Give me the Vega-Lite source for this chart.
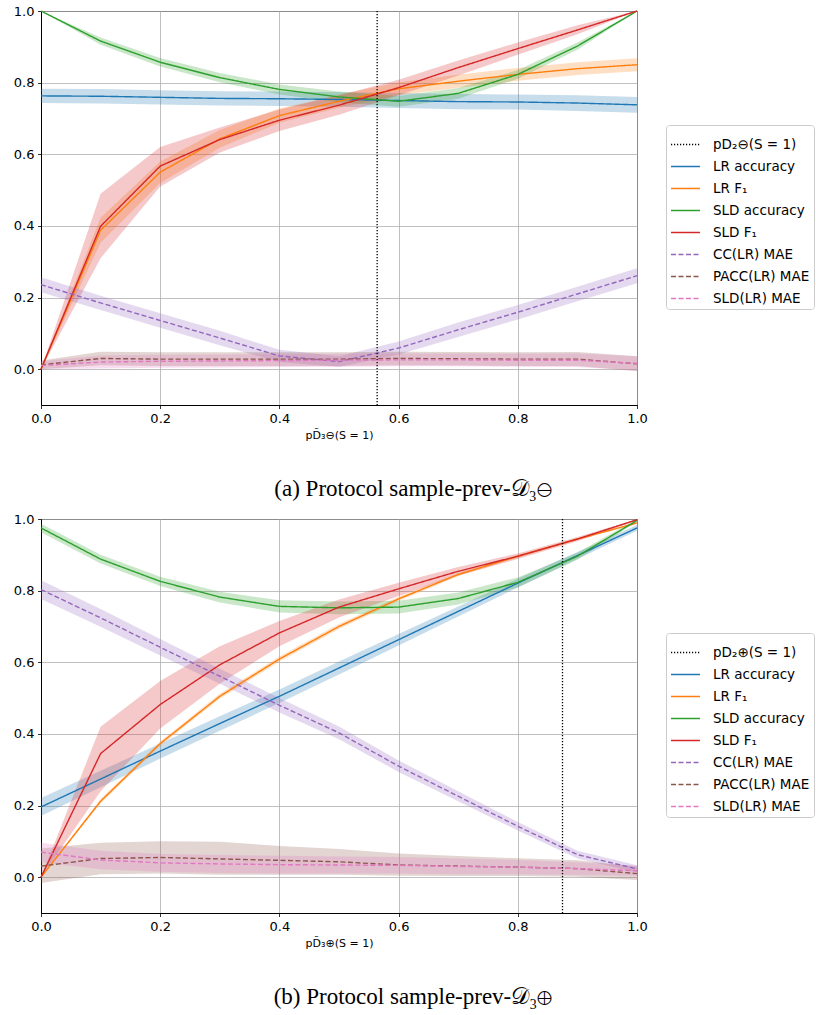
{
  "$schema": "https://vega.github.io/schema/vega-lite/v6.json",
  "padding": {"left": 12, "top": 4, "right": 0, "bottom": 0},
  "background": "white",
  "datasets": {
    "a": [
      {"x":0.0,"s":"LR accuracy","y":0.763,"lo":0.743,"hi":0.783},
      {"x":0.1,"s":"LR accuracy","y":0.762,"lo":0.742,"hi":0.782},
      {"x":0.2,"s":"LR accuracy","y":0.759,"lo":0.739,"hi":0.779},
      {"x":0.3,"s":"LR accuracy","y":0.756,"lo":0.736,"hi":0.776},
      {"x":0.4,"s":"LR accuracy","y":0.755,"lo":0.735,"hi":0.775},
      {"x":0.5,"s":"LR accuracy","y":0.753,"lo":0.733,"hi":0.773},
      {"x":0.6,"s":"LR accuracy","y":0.750,"lo":0.729,"hi":0.771},
      {"x":0.7,"s":"LR accuracy","y":0.747,"lo":0.726,"hi":0.768},
      {"x":0.8,"s":"LR accuracy","y":0.746,"lo":0.725,"hi":0.767},
      {"x":0.9,"s":"LR accuracy","y":0.743,"lo":0.721,"hi":0.765},
      {"x":1.0,"s":"LR accuracy","y":0.738,"lo":0.716,"hi":0.760},
      {"x":0.0,"s":"LR F₁","y":0.0,"lo":0.0,"hi":0.0},
      {"x":0.1,"s":"LR F₁","y":0.388,"lo":0.353,"hi":0.423},
      {"x":0.2,"s":"LR F₁","y":0.550,"lo":0.520,"hi":0.580},
      {"x":0.3,"s":"LR F₁","y":0.643,"lo":0.618,"hi":0.668},
      {"x":0.4,"s":"LR F₁","y":0.708,"lo":0.688,"hi":0.728},
      {"x":0.5,"s":"LR F₁","y":0.748,"lo":0.730,"hi":0.766},
      {"x":0.6,"s":"LR F₁","y":0.783,"lo":0.765,"hi":0.801},
      {"x":0.7,"s":"LR F₁","y":0.804,"lo":0.786,"hi":0.822},
      {"x":0.8,"s":"LR F₁","y":0.823,"lo":0.805,"hi":0.841},
      {"x":0.9,"s":"LR F₁","y":0.839,"lo":0.821,"hi":0.857},
      {"x":1.0,"s":"LR F₁","y":0.850,"lo":0.832,"hi":0.868},
      {"x":0.0,"s":"SLD accuracy","y":1.0,"lo":1.0,"hi":1.0},
      {"x":0.1,"s":"SLD accuracy","y":0.916,"lo":0.906,"hi":0.926},
      {"x":0.2,"s":"SLD accuracy","y":0.857,"lo":0.845,"hi":0.869},
      {"x":0.3,"s":"SLD accuracy","y":0.814,"lo":0.801,"hi":0.827},
      {"x":0.4,"s":"SLD accuracy","y":0.781,"lo":0.767,"hi":0.795},
      {"x":0.5,"s":"SLD accuracy","y":0.760,"lo":0.745,"hi":0.775},
      {"x":0.6,"s":"SLD accuracy","y":0.748,"lo":0.733,"hi":0.763},
      {"x":0.7,"s":"SLD accuracy","y":0.770,"lo":0.755,"hi":0.785},
      {"x":0.8,"s":"SLD accuracy","y":0.823,"lo":0.811,"hi":0.835},
      {"x":0.9,"s":"SLD accuracy","y":0.902,"lo":0.892,"hi":0.912},
      {"x":1.0,"s":"SLD accuracy","y":1.0,"lo":1.0,"hi":1.0},
      {"x":0.0,"s":"SLD F₁","y":0.0,"lo":0.0,"hi":0.0},
      {"x":0.1,"s":"SLD F₁","y":0.399,"lo":0.310,"hi":0.490},
      {"x":0.2,"s":"SLD F₁","y":0.567,"lo":0.510,"hi":0.620},
      {"x":0.3,"s":"SLD F₁","y":0.641,"lo":0.605,"hi":0.675},
      {"x":0.4,"s":"SLD F₁","y":0.695,"lo":0.665,"hi":0.725},
      {"x":0.5,"s":"SLD F₁","y":0.737,"lo":0.710,"hi":0.765},
      {"x":0.6,"s":"SLD F₁","y":0.786,"lo":0.765,"hi":0.808},
      {"x":0.7,"s":"SLD F₁","y":0.842,"lo":0.820,"hi":0.862},
      {"x":0.8,"s":"SLD F₁","y":0.895,"lo":0.878,"hi":0.912},
      {"x":0.9,"s":"SLD F₁","y":0.947,"lo":0.935,"hi":0.960},
      {"x":1.0,"s":"SLD F₁","y":1.0,"lo":1.0,"hi":1.0},
      {"x":0.0,"s":"CC(LR) MAE","y":0.236,"lo":0.215,"hi":0.257},
      {"x":0.1,"s":"CC(LR) MAE","y":0.185,"lo":0.165,"hi":0.205},
      {"x":0.2,"s":"CC(LR) MAE","y":0.136,"lo":0.116,"hi":0.156},
      {"x":0.3,"s":"CC(LR) MAE","y":0.087,"lo":0.067,"hi":0.107},
      {"x":0.4,"s":"CC(LR) MAE","y":0.037,"lo":0.020,"hi":0.054},
      {"x":0.5,"s":"CC(LR) MAE","y":0.021,"lo":0.006,"hi":0.036},
      {"x":0.6,"s":"CC(LR) MAE","y":0.059,"lo":0.041,"hi":0.077},
      {"x":0.7,"s":"CC(LR) MAE","y":0.110,"lo":0.090,"hi":0.130},
      {"x":0.8,"s":"CC(LR) MAE","y":0.159,"lo":0.139,"hi":0.179},
      {"x":0.9,"s":"CC(LR) MAE","y":0.210,"lo":0.190,"hi":0.230},
      {"x":1.0,"s":"CC(LR) MAE","y":0.261,"lo":0.240,"hi":0.282},
      {"x":0.0,"s":"PACC(LR) MAE","y":0.012,"lo":0.000,"hi":0.024},
      {"x":0.1,"s":"PACC(LR) MAE","y":0.030,"lo":0.011,"hi":0.049},
      {"x":0.2,"s":"PACC(LR) MAE","y":0.028,"lo":0.009,"hi":0.047},
      {"x":0.3,"s":"PACC(LR) MAE","y":0.028,"lo":0.009,"hi":0.047},
      {"x":0.4,"s":"PACC(LR) MAE","y":0.028,"lo":0.009,"hi":0.047},
      {"x":0.5,"s":"PACC(LR) MAE","y":0.028,"lo":0.009,"hi":0.047},
      {"x":0.6,"s":"PACC(LR) MAE","y":0.030,"lo":0.011,"hi":0.049},
      {"x":0.7,"s":"PACC(LR) MAE","y":0.029,"lo":0.010,"hi":0.048},
      {"x":0.8,"s":"PACC(LR) MAE","y":0.028,"lo":0.009,"hi":0.047},
      {"x":0.9,"s":"PACC(LR) MAE","y":0.028,"lo":0.009,"hi":0.048},
      {"x":1.0,"s":"PACC(LR) MAE","y":0.015,"lo":-0.006,"hi":0.036},
      {"x":0.0,"s":"SLD(LR) MAE","y":0.010,"lo":0.000,"hi":0.022},
      {"x":0.1,"s":"SLD(LR) MAE","y":0.020,"lo":0.002,"hi":0.038},
      {"x":0.2,"s":"SLD(LR) MAE","y":0.022,"lo":0.004,"hi":0.040},
      {"x":0.3,"s":"SLD(LR) MAE","y":0.023,"lo":0.005,"hi":0.041},
      {"x":0.4,"s":"SLD(LR) MAE","y":0.024,"lo":0.006,"hi":0.042},
      {"x":0.5,"s":"SLD(LR) MAE","y":0.025,"lo":0.007,"hi":0.043},
      {"x":0.6,"s":"SLD(LR) MAE","y":0.026,"lo":0.008,"hi":0.044},
      {"x":0.7,"s":"SLD(LR) MAE","y":0.026,"lo":0.008,"hi":0.044},
      {"x":0.8,"s":"SLD(LR) MAE","y":0.025,"lo":0.007,"hi":0.043},
      {"x":0.9,"s":"SLD(LR) MAE","y":0.025,"lo":0.006,"hi":0.044},
      {"x":1.0,"s":"SLD(LR) MAE","y":0.016,"lo":-0.004,"hi":0.036}
    ],
    "b": [
      {"x":0.0,"s":"LR accuracy","y":0.196,"lo":0.171,"hi":0.221},
      {"x":0.1,"s":"LR accuracy","y":0.274,"lo":0.251,"hi":0.297},
      {"x":0.2,"s":"LR accuracy","y":0.352,"lo":0.331,"hi":0.373},
      {"x":0.3,"s":"LR accuracy","y":0.429,"lo":0.409,"hi":0.449},
      {"x":0.4,"s":"LR accuracy","y":0.505,"lo":0.486,"hi":0.524},
      {"x":0.5,"s":"LR accuracy","y":0.584,"lo":0.566,"hi":0.602},
      {"x":0.6,"s":"LR accuracy","y":0.663,"lo":0.647,"hi":0.679},
      {"x":0.7,"s":"LR accuracy","y":0.742,"lo":0.728,"hi":0.756},
      {"x":0.8,"s":"LR accuracy","y":0.821,"lo":0.809,"hi":0.833},
      {"x":0.9,"s":"LR accuracy","y":0.898,"lo":0.888,"hi":0.908},
      {"x":1.0,"s":"LR accuracy","y":0.975,"lo":0.967,"hi":0.983},
      {"x":0.0,"s":"LR F₁","y":0.0,"lo":0.0,"hi":0.0},
      {"x":0.1,"s":"LR F₁","y":0.212,"lo":0.206,"hi":0.218},
      {"x":0.2,"s":"LR F₁","y":0.373,"lo":0.367,"hi":0.379},
      {"x":0.3,"s":"LR F₁","y":0.505,"lo":0.498,"hi":0.512},
      {"x":0.4,"s":"LR F₁","y":0.609,"lo":0.602,"hi":0.616},
      {"x":0.5,"s":"LR F₁","y":0.700,"lo":0.693,"hi":0.707},
      {"x":0.6,"s":"LR F₁","y":0.777,"lo":0.771,"hi":0.783},
      {"x":0.7,"s":"LR F₁","y":0.845,"lo":0.840,"hi":0.850},
      {"x":0.8,"s":"LR F₁","y":0.896,"lo":0.892,"hi":0.900},
      {"x":0.9,"s":"LR F₁","y":0.944,"lo":0.941,"hi":0.947},
      {"x":1.0,"s":"LR F₁","y":0.989,"lo":0.987,"hi":0.991},
      {"x":0.0,"s":"SLD accuracy","y":0.975,"lo":0.963,"hi":0.987},
      {"x":0.1,"s":"SLD accuracy","y":0.888,"lo":0.876,"hi":0.900},
      {"x":0.2,"s":"SLD accuracy","y":0.826,"lo":0.813,"hi":0.839},
      {"x":0.3,"s":"SLD accuracy","y":0.782,"lo":0.767,"hi":0.797},
      {"x":0.4,"s":"SLD accuracy","y":0.756,"lo":0.739,"hi":0.773},
      {"x":0.5,"s":"SLD accuracy","y":0.752,"lo":0.734,"hi":0.770},
      {"x":0.6,"s":"SLD accuracy","y":0.754,"lo":0.736,"hi":0.772},
      {"x":0.7,"s":"SLD accuracy","y":0.778,"lo":0.761,"hi":0.795},
      {"x":0.8,"s":"SLD accuracy","y":0.823,"lo":0.809,"hi":0.837},
      {"x":0.9,"s":"SLD accuracy","y":0.896,"lo":0.886,"hi":0.906},
      {"x":1.0,"s":"SLD accuracy","y":0.996,"lo":0.992,"hi":1.0},
      {"x":0.0,"s":"SLD F₁","y":0.0,"lo":0.0,"hi":0.0},
      {"x":0.1,"s":"SLD F₁","y":0.345,"lo":0.240,"hi":0.420},
      {"x":0.2,"s":"SLD F₁","y":0.482,"lo":0.415,"hi":0.548},
      {"x":0.3,"s":"SLD F₁","y":0.593,"lo":0.540,"hi":0.645},
      {"x":0.4,"s":"SLD F₁","y":0.682,"lo":0.645,"hi":0.715},
      {"x":0.5,"s":"SLD F₁","y":0.754,"lo":0.725,"hi":0.775},
      {"x":0.6,"s":"SLD F₁","y":0.805,"lo":0.785,"hi":0.822},
      {"x":0.7,"s":"SLD F₁","y":0.854,"lo":0.842,"hi":0.866},
      {"x":0.8,"s":"SLD F₁","y":0.896,"lo":0.888,"hi":0.904},
      {"x":0.9,"s":"SLD F₁","y":0.944,"lo":0.938,"hi":0.950},
      {"x":1.0,"s":"SLD F₁","y":0.998,"lo":0.996,"hi":1.0},
      {"x":0.0,"s":"CC(LR) MAE","y":0.803,"lo":0.777,"hi":0.829},
      {"x":0.1,"s":"CC(LR) MAE","y":0.724,"lo":0.699,"hi":0.749},
      {"x":0.2,"s":"CC(LR) MAE","y":0.642,"lo":0.619,"hi":0.665},
      {"x":0.3,"s":"CC(LR) MAE","y":0.561,"lo":0.540,"hi":0.582},
      {"x":0.4,"s":"CC(LR) MAE","y":0.480,"lo":0.460,"hi":0.500},
      {"x":0.5,"s":"CC(LR) MAE","y":0.403,"lo":0.385,"hi":0.421},
      {"x":0.6,"s":"CC(LR) MAE","y":0.310,"lo":0.294,"hi":0.326},
      {"x":0.7,"s":"CC(LR) MAE","y":0.226,"lo":0.212,"hi":0.240},
      {"x":0.8,"s":"CC(LR) MAE","y":0.142,"lo":0.130,"hi":0.154},
      {"x":0.9,"s":"CC(LR) MAE","y":0.063,"lo":0.052,"hi":0.074},
      {"x":1.0,"s":"CC(LR) MAE","y":0.023,"lo":0.013,"hi":0.033},
      {"x":0.0,"s":"PACC(LR) MAE","y":0.031,"lo":-0.016,"hi":0.080},
      {"x":0.1,"s":"PACC(LR) MAE","y":0.052,"lo":0.008,"hi":0.096},
      {"x":0.2,"s":"PACC(LR) MAE","y":0.055,"lo":0.010,"hi":0.100},
      {"x":0.3,"s":"PACC(LR) MAE","y":0.051,"lo":0.007,"hi":0.099},
      {"x":0.4,"s":"PACC(LR) MAE","y":0.047,"lo":0.007,"hi":0.087},
      {"x":0.5,"s":"PACC(LR) MAE","y":0.043,"lo":0.007,"hi":0.079},
      {"x":0.6,"s":"PACC(LR) MAE","y":0.034,"lo":0.004,"hi":0.066},
      {"x":0.7,"s":"PACC(LR) MAE","y":0.031,"lo":0.003,"hi":0.059},
      {"x":0.8,"s":"PACC(LR) MAE","y":0.028,"lo":0.003,"hi":0.053},
      {"x":0.9,"s":"PACC(LR) MAE","y":0.024,"lo":0.001,"hi":0.047},
      {"x":1.0,"s":"PACC(LR) MAE","y":0.010,"lo":-0.008,"hi":0.030},
      {"x":0.0,"s":"SLD(LR) MAE","y":0.070,"lo":0.042,"hi":0.096},
      {"x":0.1,"s":"SLD(LR) MAE","y":0.048,"lo":0.022,"hi":0.074},
      {"x":0.2,"s":"SLD(LR) MAE","y":0.040,"lo":0.015,"hi":0.065},
      {"x":0.3,"s":"SLD(LR) MAE","y":0.037,"lo":0.012,"hi":0.062},
      {"x":0.4,"s":"SLD(LR) MAE","y":0.035,"lo":0.010,"hi":0.060},
      {"x":0.5,"s":"SLD(LR) MAE","y":0.034,"lo":0.010,"hi":0.058},
      {"x":0.6,"s":"SLD(LR) MAE","y":0.033,"lo":0.010,"hi":0.056},
      {"x":0.7,"s":"SLD(LR) MAE","y":0.030,"lo":0.008,"hi":0.052},
      {"x":0.8,"s":"SLD(LR) MAE","y":0.028,"lo":0.008,"hi":0.048},
      {"x":0.9,"s":"SLD(LR) MAE","y":0.024,"lo":0.006,"hi":0.042},
      {"x":1.0,"s":"SLD(LR) MAE","y":0.018,"lo":0.004,"hi":0.032}
    ]
  },
  "vconcat": [
    {
      "width": 596, "height": 394,
      "title": {"text": "(a) Protocol sample-prev-𝒟₃⊖", "orient": "bottom", "anchor": "middle", "font": "Liberation Serif", "fontSize": 23, "fontWeight": "normal", "color": "black", "dx": 74, "offset": 38},
      "layer": [
        {
          "data": {"name": "a"},
          "mark": {"type": "area", "opacity": 0.25},
          "encoding": {
            "x": {"field": "x", "type": "quantitative", "scale": {"domain": [0, 1], "nice": false}, "axis": {"values": [0,0.2,0.4,0.6,0.8,1.0], "format": ".1f", "title": "pD̃₃⊖(S = 1)", "labelFlush": false}},
            "y": {"field": "lo", "type": "quantitative", "scale": {"domain": [-0.1, 1], "nice": false, "zero": false}, "axis": {"values": [0,0.2,0.4,0.6,0.8,1.0], "format": ".1f", "title": null}},
            "y2": {"field": "hi"},
            "fill": {"field": "s", "type": "nominal", "legend": null,
              "scale": {"domain": ["LR accuracy", "LR F₁", "SLD accuracy", "SLD F₁", "CC(LR) MAE", "PACC(LR) MAE", "SLD(LR) MAE"],
                        "range": ["#1f77b4", "#ff7f0e", "#2ca02c", "#d62728", "#9467bd", "#8c564b", "#e377c2"]}}
          }
        },
        {
          "data": {"name": "a"},
          "mark": {"type": "line", "strokeWidth": 1.4},
          "encoding": {
            "x": {"field": "x", "type": "quantitative"},
            "y": {"field": "y", "type": "quantitative"},
            "color": {"field": "s", "type": "nominal", "legend": {"orient": "none", "legendX": 625, "legendY": 114, "title": null},
              "scale": {"domain": ["pD₂⊖(S = 1)", "LR accuracy", "LR F₁", "SLD accuracy", "SLD F₁", "CC(LR) MAE", "PACC(LR) MAE", "SLD(LR) MAE"],
                        "range": ["#000000", "#1f77b4", "#ff7f0e", "#2ca02c", "#d62728", "#9467bd", "#8c564b", "#e377c2"]}},
            "strokeDash": {"field": "s", "type": "nominal", "legend": {"orient": "none", "legendX": 625, "legendY": 114, "title": null},
              "scale": {"domain": ["pD₂⊖(S = 1)", "LR accuracy", "LR F₁", "SLD accuracy", "SLD F₁", "CC(LR) MAE", "PACC(LR) MAE", "SLD(LR) MAE"],
                        "range": [[1.2, 1.8], [1, 0], [1, 0], [1, 0], [1, 0], [5, 2.5], [5, 2.5], [5, 2.5]]}}
          }
        },
        {
          "data": {"values": [{"x": 0.564, "s": "pD₂⊖(S = 1)"}]},
          "mark": {"type": "rule", "strokeWidth": 1.3},
          "encoding": {
            "x": {"field": "x", "type": "quantitative"},
            "color": {"field": "s", "type": "nominal"},
            "strokeDash": {"field": "s", "type": "nominal"}
          }
        }
      ]
    },
    {
      "width": 596, "height": 394,
      "title": {"text": "(b) Protocol sample-prev-𝒟₃⊕", "orient": "bottom", "anchor": "middle", "font": "Liberation Serif", "fontSize": 23, "fontWeight": "normal", "color": "black", "dx": 74, "offset": 38},
      "layer": [
        {
          "data": {"name": "b"},
          "mark": {"type": "area", "opacity": 0.25},
          "encoding": {
            "x": {"field": "x", "type": "quantitative", "scale": {"domain": [0, 1], "nice": false}, "axis": {"values": [0,0.2,0.4,0.6,0.8,1.0], "format": ".1f", "title": "pD̃₃⊕(S = 1)", "labelFlush": false}},
            "y": {"field": "lo", "type": "quantitative", "scale": {"domain": [-0.1, 1], "nice": false, "zero": false}, "axis": {"values": [0,0.2,0.4,0.6,0.8,1.0], "format": ".1f", "title": null}},
            "y2": {"field": "hi"},
            "fill": {"field": "s", "type": "nominal", "legend": null,
              "scale": {"domain": ["LR accuracy", "LR F₁", "SLD accuracy", "SLD F₁", "CC(LR) MAE", "PACC(LR) MAE", "SLD(LR) MAE"],
                        "range": ["#1f77b4", "#ff7f0e", "#2ca02c", "#d62728", "#9467bd", "#8c564b", "#e377c2"]}}
          }
        },
        {
          "data": {"name": "b"},
          "mark": {"type": "line", "strokeWidth": 1.4},
          "encoding": {
            "x": {"field": "x", "type": "quantitative"},
            "y": {"field": "y", "type": "quantitative"},
            "color": {"field": "s", "type": "nominal", "legend": {"orient": "none", "legendX": 625, "legendY": 114, "title": null},
              "scale": {"domain": ["pD₂⊕(S = 1)", "LR accuracy", "LR F₁", "SLD accuracy", "SLD F₁", "CC(LR) MAE", "PACC(LR) MAE", "SLD(LR) MAE"],
                        "range": ["#000000", "#1f77b4", "#ff7f0e", "#2ca02c", "#d62728", "#9467bd", "#8c564b", "#e377c2"]}},
            "strokeDash": {"field": "s", "type": "nominal", "legend": {"orient": "none", "legendX": 625, "legendY": 114, "title": null},
              "scale": {"domain": ["pD₂⊕(S = 1)", "LR accuracy", "LR F₁", "SLD accuracy", "SLD F₁", "CC(LR) MAE", "PACC(LR) MAE", "SLD(LR) MAE"],
                        "range": [[1.2, 1.8], [1, 0], [1, 0], [1, 0], [1, 0], [5, 2.5], [5, 2.5], [5, 2.5]]}}
          }
        },
        {
          "data": {"values": [{"x": 0.875, "s": "pD₂⊕(S = 1)"}]},
          "mark": {"type": "rule", "strokeWidth": 1.3},
          "encoding": {
            "x": {"field": "x", "type": "quantitative"},
            "color": {"field": "s", "type": "nominal"},
            "strokeDash": {"field": "s", "type": "nominal"}
          }
        }
      ]
    }
  ],
  "spacing": 114,
  "bounds": "flush",
  "resolve": {"scale": {"color": "independent", "strokeDash": "independent", "fill": "independent"}},
  "config": {
    "view": {"stroke": "#000000", "strokeWidth": 1},
    "axis": {
      "labelFont": "DejaVu Sans", "labelFontSize": 13, "labelColor": "#000000",
      "titleFont": "DejaVu Sans", "titleFontSize": 11, "titleFontWeight": "normal", "titleColor": "#000000",
      "domainColor": "#000000", "domainWidth": 1, "tickColor": "#000000", "tickSize": 3.5, "tickWidth": 0.8,
      "labelPadding": 3.5, "titlePadding": 4,
      "gridColor": "#b0b0b0", "gridWidth": 0.8, "gridOpacity": 1, "labelOverlap": false
    },
    "legend": {
      "labelFont": "DejaVu Sans", "labelFontSize": 13.5, "labelColor": "#000000",
      "symbolType": "stroke", "symbolSize": 840, "symbolStrokeWidth": 1.5,
      "labelOffset": 12, "rowPadding": -2.3, "padding": 4,
      "strokeColor": "#cccccc", "cornerRadius": 3, "fillColor": "rgba(255,255,255,0.8)",
      "labelLimit": 200
    }
  }
}
